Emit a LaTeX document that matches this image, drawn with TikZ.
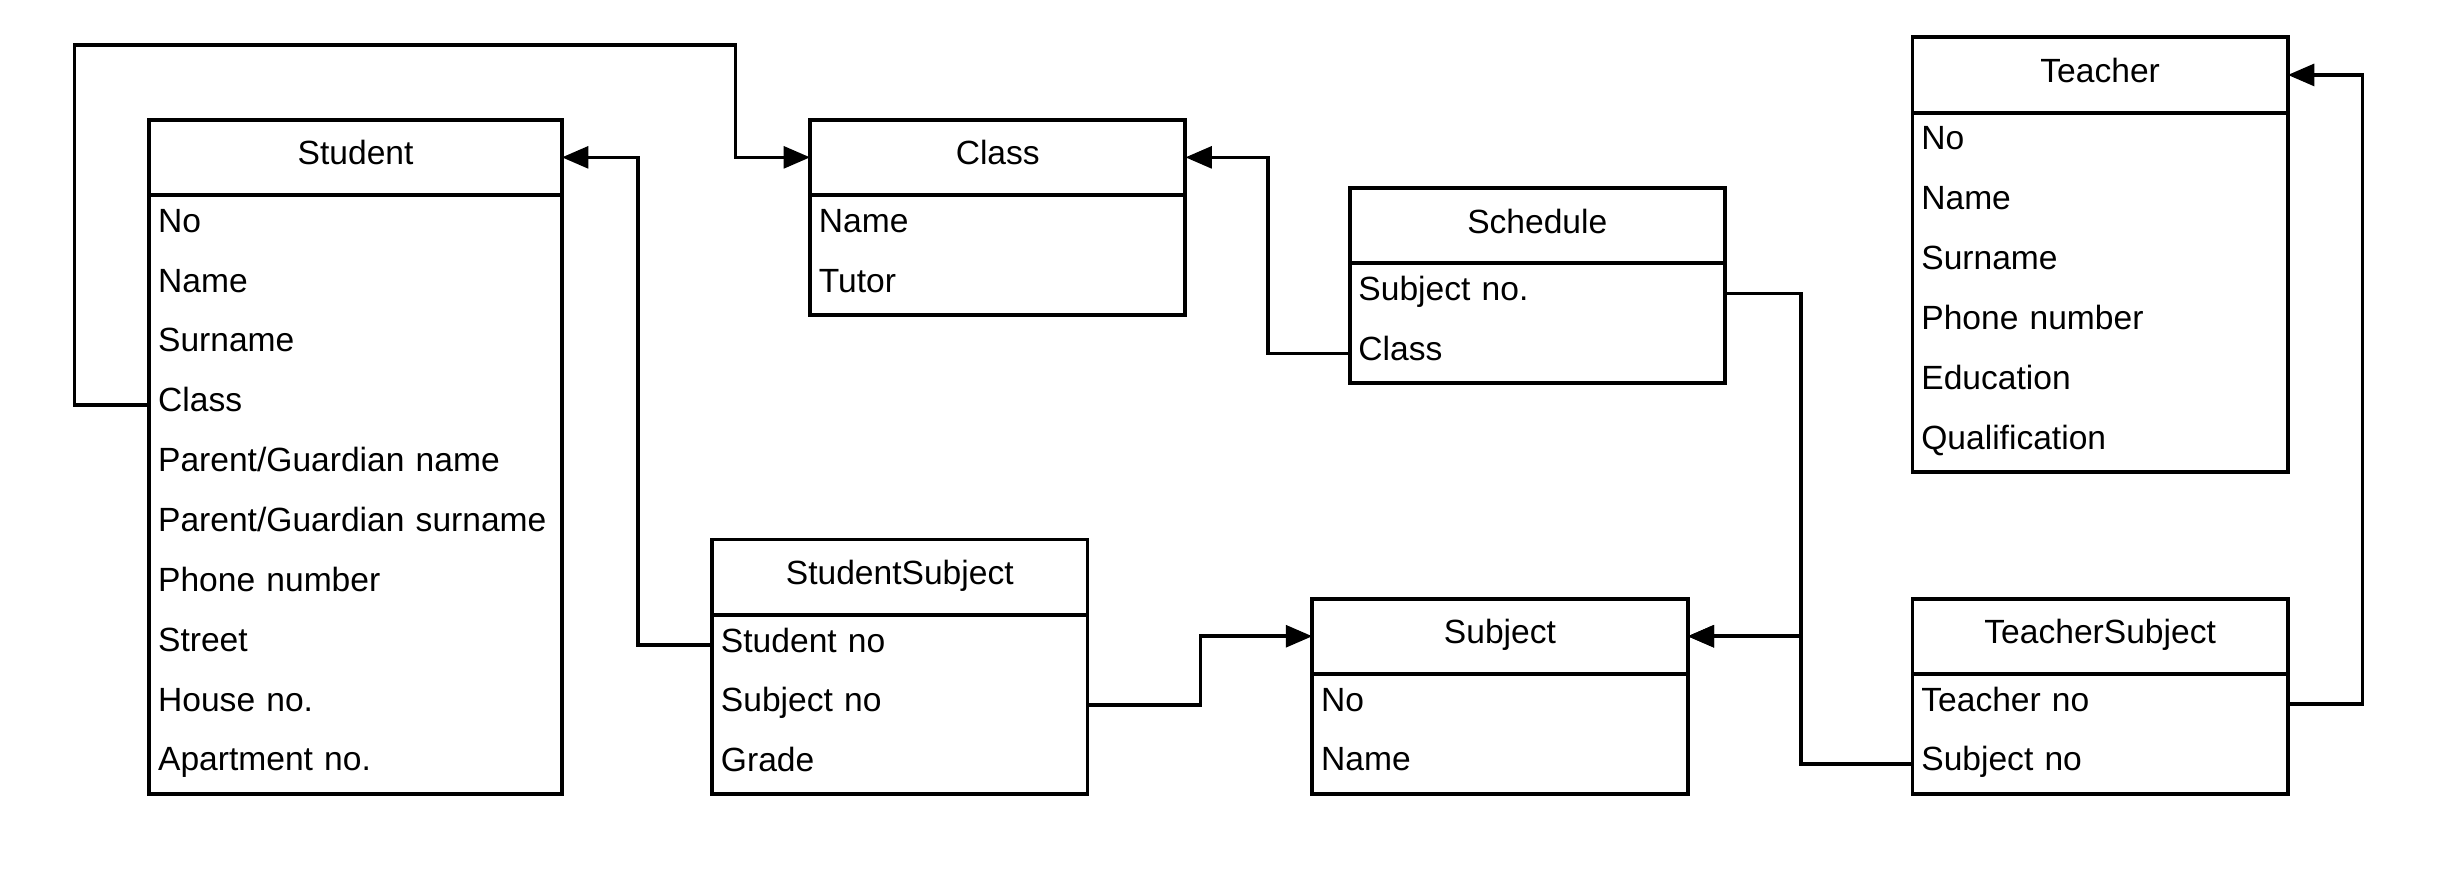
\documentclass[tikz,border=0pt]{standalone}
\usepackage{fontspec}
\setmainfont{Liberation Sans}
\usetikzlibrary{calc,arrows.meta}
\tikzset{
  erfont/.style={font=\fontsize{21.6pt}{26pt}\selectfont},
  hdr/.style={erfont, anchor=north west, inner sep=0pt, minimum height=48pt,
    text height=15.5pt, text depth=6.1pt, align=center},
  rowc/.style={erfont, anchor=north west, inner xsep=5.5pt, inner ysep=0pt,
    minimum height=38.5pt, text height=15.5pt, text depth=6.5pt, align=left},
  boxline/.style={draw=black, line width=2.5pt},
  conn/.style={draw=black, line width=2.3pt, -{Triangle[length=17pt,width=14pt]}},
}
% #1 name, #2 x, #3 y, #4 width, #5 text width, #6 title, #7 rows, #8 number of rows
\newcommand{\mktable}[8]{%
  \node[hdr, minimum width=#4pt] (#1) at (#2,#3) {#6};
  \foreach \r [count=\i] in {#7} {
    \node[rowc, text width=#5pt] (#1-\i) at ($(#1.south west)+(0,{(\i-1)*38.5})$) {\r};
  }
  \draw[boxline] (#1.north west) rectangle ($(#1.south east)+(0,{#8*38.5})$);
  \draw[boxline] (#1.south west) -- (#1.south east);
}
\begin{document}
\begin{tikzpicture}[x=1pt,y=-1pt]
\useasboundingbox[fill=white] (0,0) rectangle (1568,560);

\mktable{student}{96}{77}{265}{254}{Student}{No,Name,Surname,Class,Parent/Guardian name,Parent/Guardian surname,Phone number,Street,House no.,Apartment no.}{10}
\mktable{class}{521}{77}{241}{230}{Class}{Name,Tutor}{2}
\mktable{sched}{868}{121}{241}{230}{Schedule}{Subject no.,Class}{2}
\mktable{teacher}{1230}{24}{241}{230}{Teacher}{No,Name,Surname,Phone number,Education,Qualification}{6}
\mktable{ss}{458}{347}{241}{230}{StudentSubject}{Student no,Subject no,Grade}{3}
\mktable{subject}{844}{385}{241}{230}{Subject}{No,Name}{2}
\mktable{ts}{1230}{385}{241}{230}{TeacherSubject}{Teacher no,Subject no}{2}

% Student.Class -> Class
\draw[conn] (student-4.west) -| (48,29) -| ($(class.west)+(-48,0)$) -- (class.west);
% StudentSubject.Student no -> Student
\draw[conn] (ss-1.west) -| ($(student.east)+(49,0)$) -- (student.east);
% StudentSubject.Subject no -> Subject
\draw[conn] (ss-2.east) -| ($(subject.west)+(-72,0)$) -- (subject.west);
% Schedule.Class -> Class
\draw[conn] (sched-2.west) -| ($(class.east)+(53,0)$) -- (class.east);
% Schedule.Subject no. -> Subject
\draw[conn] (sched-1.east) -| ($(subject.east)+(73,0)$) -- (subject.east);
% TeacherSubject.Subject no -> Subject
\draw[conn] (ts-2.west) -| ($(subject.east)+(73,0)$) -- (subject.east);
% TeacherSubject.Teacher no -> Teacher
\draw[conn] (ts-1.east) -| ($(teacher.east)+(48,0)$) -- (teacher.east);
\end{tikzpicture}
\end{document}
